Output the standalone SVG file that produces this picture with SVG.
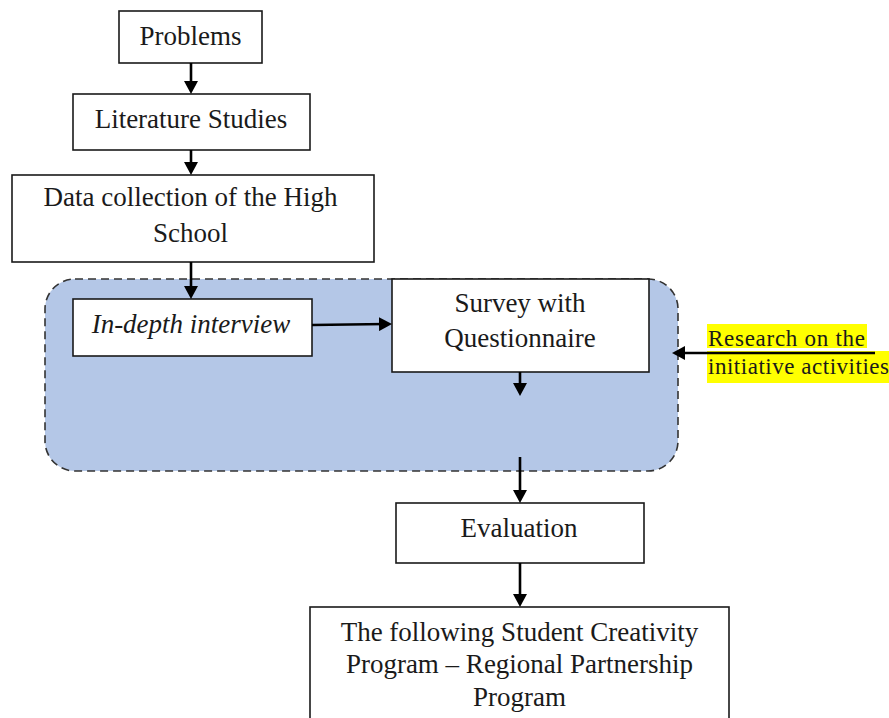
<svg xmlns="http://www.w3.org/2000/svg" width="889" height="718" viewBox="0 0 889 718">
<style>
  .box { fill: #ffffff; stroke: #1a1a1a; stroke-width: 1.6; }
  .t { font-family: "Liberation Serif", "Times New Roman", serif; font-size: 27px; fill: #1a1a1a; text-anchor: middle; }
  .ti { font-style: italic; }
  .side { font-family: "Liberation Serif", "Times New Roman", serif; font-size: 23px; fill: #1a1a1a; }
  .conn { stroke: #000; stroke-width: 2.6; fill: none; marker-end: url(#ah); }
</style>
<defs>
  <marker id="ah" markerUnits="userSpaceOnUse" markerWidth="13" markerHeight="14" refX="7" refY="7" orient="auto">
    <path d="M0,0 L13,7 L0,14 z" fill="#000"/>
  </marker>
</defs>
<rect width="889" height="718" fill="#ffffff"/>

<g id="group-region">
  <rect x="45" y="279" width="633" height="192" rx="30" ry="30" fill="#b4c7e7" stroke="#333" stroke-width="1.6" stroke-dasharray="8,5"/>
</g>

<g id="node-problems">
  <rect class="box" x="119" y="11" width="143" height="52"/>
  <text class="t" x="190.5" y="45">Problems</text>
</g>
<g id="node-literature">
  <rect class="box" x="73" y="94" width="237" height="56"/>
  <text class="t" x="191" y="128">Literature Studies</text>
</g>
<g id="node-data">
  <rect class="box" x="12" y="175" width="362" height="87"/>
  <text class="t" x="190.5" y="206">Data collection of the High</text>
  <text class="t" x="190.5" y="242">School</text>
</g>
<g id="node-interview">
  <rect class="box" x="73" y="299" width="239" height="57"/>
  <text class="t ti" x="191" y="333">In-depth interview</text>
</g>
<g id="node-survey">
  <rect class="box" x="392" y="279" width="257" height="93"/>
  <text class="t" x="520" y="312">Survey with</text>
  <text class="t" x="520" y="347">Questionnaire</text>
</g>
<g id="node-evaluation">
  <rect class="box" x="396" y="503" width="248" height="60"/>
  <text class="t" x="519" y="537">Evaluation</text>
</g>
<g id="node-program">
  <rect class="box" x="310" y="607" width="419" height="130"/>
  <text class="t" x="519.5" y="641">The following Student Creativity</text>
  <text class="t" x="519.5" y="673">Program – Regional Partnership</text>
  <text class="t" x="519.5" y="706">Program</text>
</g>
<g id="node-research">
  <rect x="707" y="324" width="160" height="24" fill="#ffff00"/>
  <rect x="707" y="351" width="182" height="32" fill="#ffff00"/>
  <text class="side" x="708" y="346" textLength="157" lengthAdjust="spacing">Research on the</text>
  <text class="side" x="708" y="374" textLength="181" lengthAdjust="spacing">initiative activities</text>
</g>

<g id="connectors">
  <line class="conn" x1="191" y1="63" x2="191" y2="88"/>
  <line class="conn" x1="191" y1="150" x2="191" y2="169"/>
  <line class="conn" x1="191" y1="262" x2="191" y2="293"/>
  <line class="conn" x1="312" y1="325" x2="386" y2="324"/>
  <line class="conn" x1="520" y1="372" x2="520" y2="390"/>
  <line class="conn" x1="520" y1="457" x2="520" y2="497"/>
  <line class="conn" x1="520" y1="563" x2="520" y2="601"/>
  <line class="conn" x1="875" y1="353" x2="678" y2="353"/>
</g>
</svg>
